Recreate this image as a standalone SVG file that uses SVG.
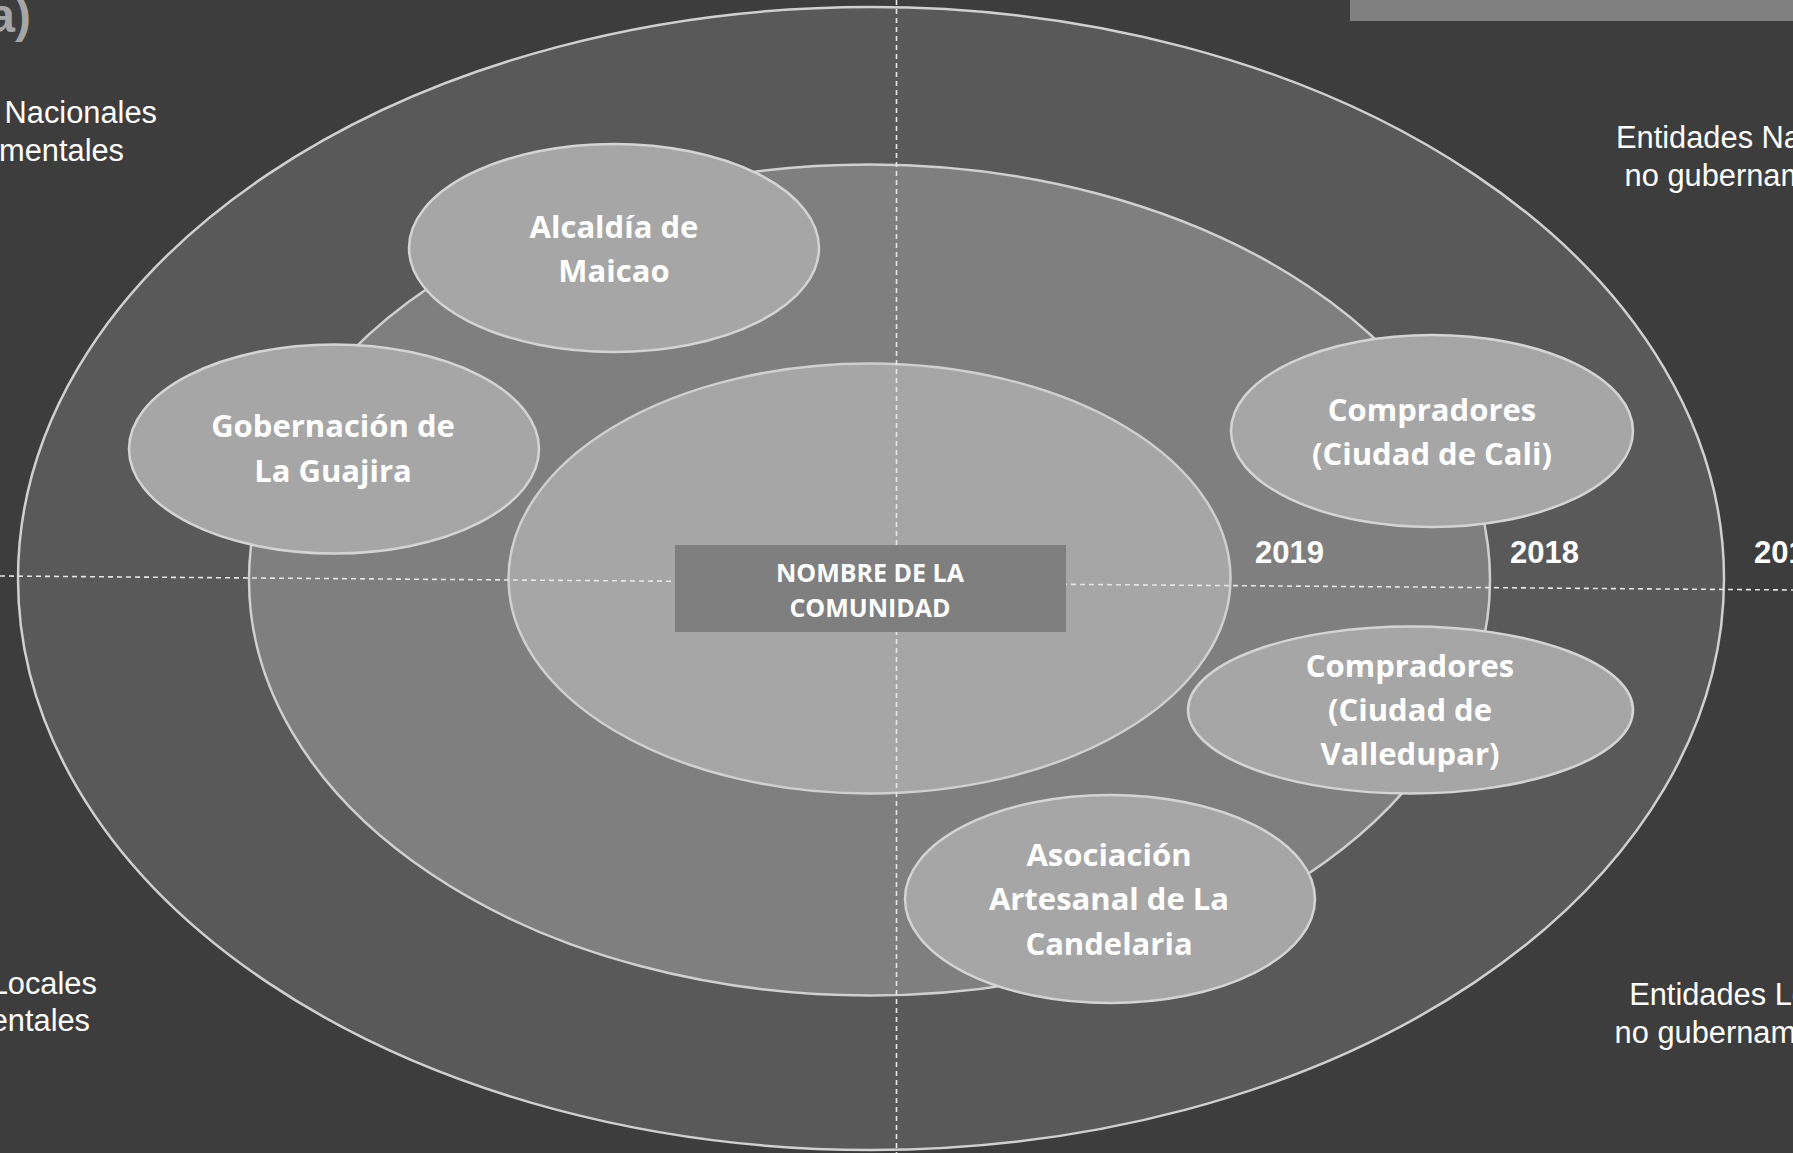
<svg xmlns="http://www.w3.org/2000/svg" width="1793" height="1153" viewBox="0 0 1793 1153">
<style>
.ring{stroke:#d0d0d0;stroke-width:2.5}
.node ellipse{fill:#a6a6a6;stroke:#d4d4d4;stroke-width:2.5}
.lbl{font-family:"Open Sans","Liberation Sans",sans-serif;font-weight:bold;font-size:31px;fill:#ffffff;text-anchor:middle}
.side{font-family:"Liberation Sans",Arial,sans-serif;font-size:30.8px;fill:#ffffff;text-anchor:middle}
.year{font-family:"Liberation Sans",Arial,sans-serif;font-weight:bold;font-size:31px;fill:#ffffff}
.axis{stroke:#e6e6e6;stroke-width:1.6;stroke-dasharray:5 4;fill:none}
</style>
<rect x="0" y="0" width="1793" height="1153" fill="#3d3d3d"/>
<rect x="1350" y="0" width="443" height="21" fill="#808080"/>
<text x="31" y="32" font-family="Liberation Sans,Arial,sans-serif" font-weight="bold" font-size="48" fill="#a6a6a6" text-anchor="end">a)</text>

<g id="rings">
<ellipse class="ring" cx="871" cy="578.5" rx="853" ry="571.5" fill="#595959"/>
<ellipse class="ring" cx="869.5" cy="580" rx="620.5" ry="415.5" fill="#7f7f7f"/>
<ellipse class="ring" cx="869.5" cy="578.5" rx="361" ry="215" fill="#a6a6a6"/>
</g>

<g id="connectors">
<line class="axis" x1="896.5" y1="0" x2="896.5" y2="1153"/>
<line class="axis" x1="0" y1="576" x2="1793" y2="590"/>
</g>

<g id="side-labels">
<text class="side" x="8" y="123">Entidades Nacionales<tspan x="5" y="161">gubernamentales</tspan></text>
<text class="side" x="1765" y="148">Entidades Nacionales<tspan x="1765" y="186">no gubernamentales</tspan></text>
<text class="side" x="-29" y="994">Entidades Locales<tspan x="-29" y="1031">gubernamentales</tspan></text>
<text class="side" x="1755" y="1005">Entidades Locales<tspan x="1755" y="1043">no gubernamentales</tspan></text>
</g>

<g id="years">
<text class="year" x="1255" y="563">2019</text>
<text class="year" x="1510" y="563">2018</text>
<text class="year" x="1754" y="563">2017</text>
</g>

<g id="nombre">
<rect x="675" y="545" width="391" height="87" fill="#7f7f7f"/>
<text class="lbl" x="870" y="582" fill="#f2f2f2" style="font-size:25px">NOMBRE DE LA<tspan x="870" y="617">COMUNIDAD</tspan></text>
</g>

<g id="alcaldia" class="node">
<ellipse cx="614" cy="248" rx="205" ry="104"/>
<text class="lbl" x="614" y="237.5">Alcaldía de<tspan x="614" y="282">Maicao</tspan></text>
</g>

<g id="gobernacion" class="node">
<ellipse cx="334" cy="449" rx="205" ry="104.5"/>
<text class="lbl" x="333" y="437">Gobernación de<tspan x="333" y="481.5">La Guajira</tspan></text>
</g>

<g id="cali" class="node">
<ellipse cx="1432" cy="431" rx="201" ry="96"/>
<text class="lbl" x="1432" y="421">Compradores<tspan x="1432" y="465">(Ciudad de Cali)</tspan></text>
</g>

<g id="valledupar" class="node">
<ellipse cx="1410.5" cy="710" rx="222.5" ry="83.5"/>
<text class="lbl" x="1410" y="677">Compradores<tspan x="1410" y="721">(Ciudad de</tspan><tspan x="1410" y="765">Valledupar)</tspan></text>
</g>

<g id="asociacion" class="node">
<ellipse cx="1110" cy="899" rx="205" ry="104"/>
<text class="lbl" x="1109" y="865.5">Asociación<tspan x="1109" y="910">Artesanal de La</tspan><tspan x="1109" y="954.5">Candelaria</tspan></text>
</g>
</svg>
